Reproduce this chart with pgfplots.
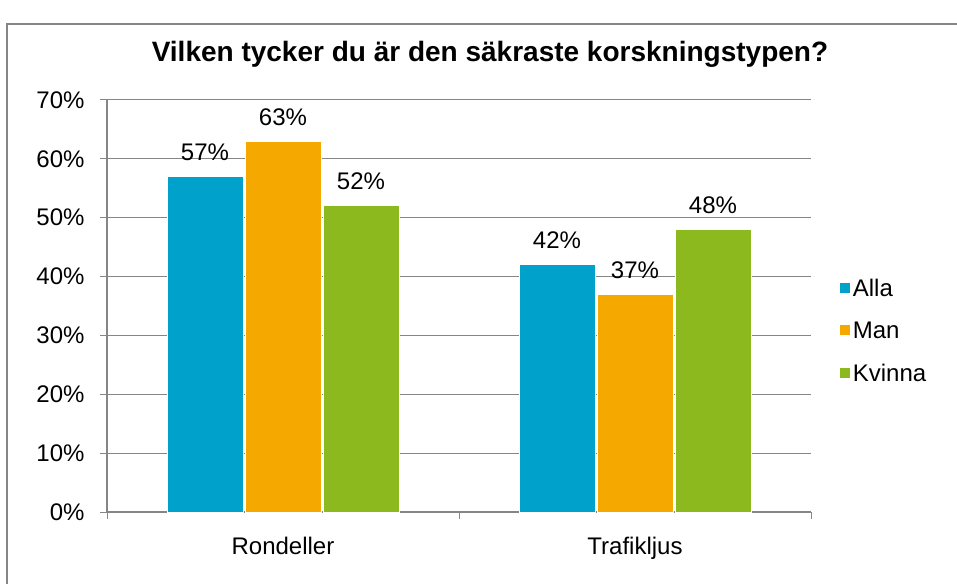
\documentclass[border=0pt]{standalone}
\usepackage{pgfplots}
\pgfplotsset{compat=1.18}
\usepackage{fontspec}
\setmainfont{Liberation Sans}
\definecolor{alla}{RGB}{0,162,203}
\definecolor{man}{RGB}{245,168,0}
\definecolor{kvinna}{RGB}{140,186,30}
\definecolor{gridc}{RGB}{134,134,134}
\begin{document}
\begin{tikzpicture}[x=1pt,y=1pt]
\useasboundingbox (0,0) rectangle (957,583);
\begin{scope}
\clip (0,0) rectangle (957,583);
\draw[gridc, line width=1.2pt] (7,-20) -- (7,559) -- (990,559);
\end{scope}
\node[font=\fontsize{28}{32}\selectfont\bfseries] at (490,529) {Vilken tycker du är den säkraste korskningstypen?};
\begin{axis}[
  at={(107pt,71pt)}, anchor=south west,
  scale only axis, width=704pt, height=412pt,
  xmin=-0.5, xmax=1.5, ymin=0, ymax=70,
  ybar, bar width=76pt, bar shift auto=false,
  xtick={-0.5,0.5,1.5}, xticklabels={},
  extra x ticks={0,1}, extra x tick labels={Rondeller,Trafikljus},
  extra x tick style={major tick length=0pt, xticklabel style={yshift=-22pt}},
  ytick={0,10,...,70},
  yticklabel={\pgfmathprintnumber{\tick}\%},
  ymajorgrids, grid style={gridc, line width=1pt},
  tick style={gridc, line width=1pt}, tick align=outside, major tick length=7pt,
  axis line style={gridc, line width=1.2pt},
  axis x line*=bottom, axis y line*=left,
  tick label style={font=\fontsize{24}{28}\selectfont},
  /pgf/number format/assume math mode=true,
  yticklabel style={xshift=-12pt},
  nodes near coords={\pgfmathprintnumber{\pgfplotspointmeta}\%},
  every node near coord/.append style={font=\fontsize{24}{28}\selectfont, black, yshift=12pt},
  legend style={at={(1.035,0.44)}, anchor=west, draw=none, font=\fontsize{24}{28}\selectfont, row sep=20pt, legend cell align=left},
  legend image code/.code={\fill[#1] (0pt,-5pt) rectangle (11pt,6pt);},
  clip=false,
]
\addplot[fill=alla, draw=white, line width=1pt, bar shift=-78pt] coordinates {(0,57) (1,42)};
\addplot[fill=man, draw=white, line width=1pt, bar shift=0pt] coordinates {(0,63) (1,37)};
\addplot[fill=kvinna, draw=white, line width=1pt, bar shift=78pt] coordinates {(0,52) (1,48)};
\legend{Alla,Man,Kvinna}
\end{axis}
\end{tikzpicture}
\end{document}
